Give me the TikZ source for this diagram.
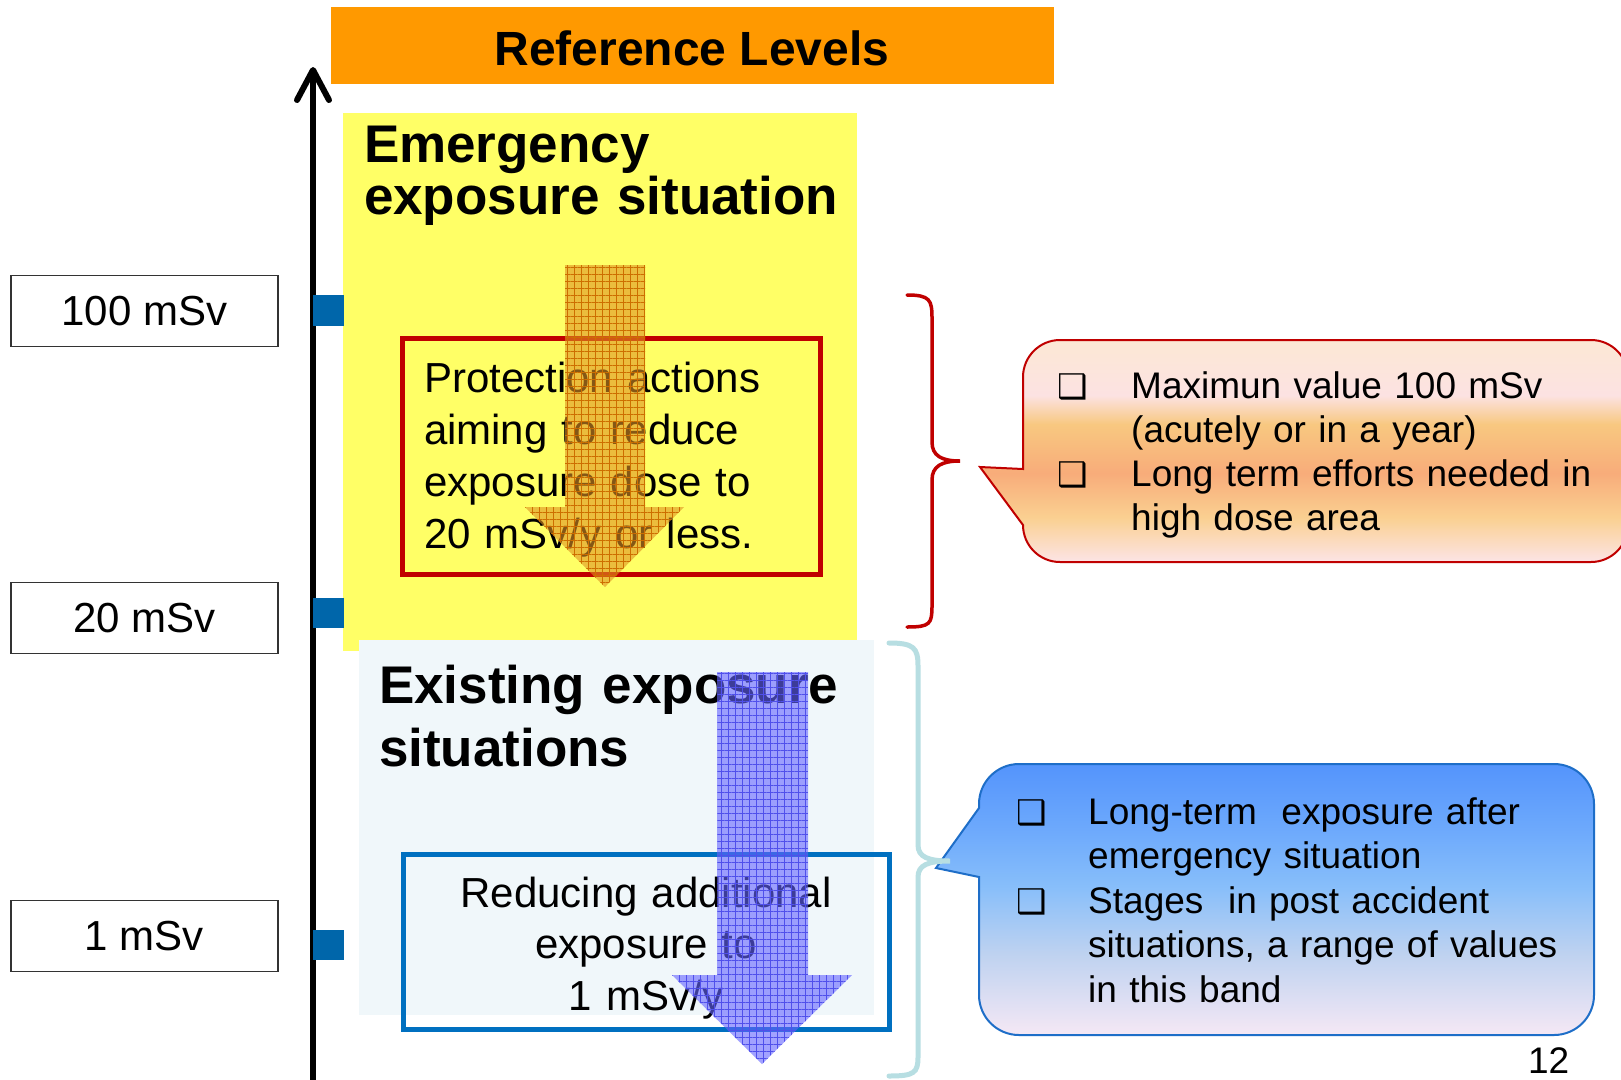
\documentclass[tikz,border=0pt]{standalone}
\usepackage{fontspec}
\setmainfont{Liberation Sans}
\newfontfamily\symfont{DejaVu Sans}
\usetikzlibrary{patterns.meta}
\definecolor{barorange}{RGB}{255,153,0}
\definecolor{emyellow}{RGB}{255,255,102}
\definecolor{exblue}{RGB}{240,247,250}
\definecolor{boxred}{RGB}{192,0,0}
\definecolor{boxblue}{RGB}{0,112,192}
\definecolor{tickblue}{RGB}{0,102,170}
\definecolor{arrO}{RGB}{222,145,35}
\definecolor{arrOline}{RGB}{205,110,0}
\definecolor{arrB}{RGB}{100,100,255}
\definecolor{arrBline}{RGB}{80,80,235}
\definecolor{bracecyan}{RGB}{183,222,226}
\definecolor{calblueedge}{RGB}{30,110,200}
\definecolor{oc1}{RGB}{252,232,212}
\definecolor{oc2}{RGB}{252,226,226}
\definecolor{oc3}{RGB}{248,200,128}
\definecolor{oc4}{RGB}{248,172,122}
\definecolor{oc5}{RGB}{250,208,145}
\definecolor{oc6}{RGB}{252,228,230}
\definecolor{bc1}{RGB}{84,148,252}
\definecolor{bc2}{RGB}{110,170,252}
\definecolor{bc3}{RGB}{135,190,250}
\definecolor{bc4}{RGB}{190,210,240}
\definecolor{bc5}{RGB}{245,232,245}
\pgfdeclareverticalshading{orangeshade}{100bp}{color(0bp)=(oc6); color(25bp)=(oc6); color(35bp)=(oc5); color(45bp)=(oc4); color(56bp)=(oc3); color(62.5bp)=(oc2); color(75bp)=(oc1); color(100bp)=(oc1)}
\pgfdeclareverticalshading{blueshade}{100bp}{color(0bp)=(bc5); color(25bp)=(bc5); color(40bp)=(bc4); color(52.5bp)=(bc3); color(62.5bp)=(bc2); color(75bp)=(bc1); color(100bp)=(bc1)}
\newcommand\myfs[2]{\fontsize{#1}{#2}\selectfont}
\tikzset{
  txt/.style={inner sep=0pt, outer sep=0pt},
  lbl/.style={draw=black!80, line width=1.5pt, minimum width=267pt, minimum height=71pt, inner sep=0pt, font=\myfs{42}{50}},
  bul/.style={inner sep=0pt, anchor=base west, font=\symfont\myfs{34}{40}},
  item/.style={inner sep=0pt, anchor=base west, text width=560pt, align=left, font=\myfs{37}{44}},
  tick/.style={fill=tickblue},
  gridO/.style={pattern={Hatch[distance=7pt,angle=0,line width=0.5pt]}, pattern color=arrOline, fill opacity=0.3},
  gridB/.style={pattern={Hatch[distance=7pt,angle=0,line width=0.5pt]}, pattern color=arrBline, fill opacity=0.25},
}
\begin{document}
\begin{tikzpicture}[x=1pt,y=1pt]
\useasboundingbox (0,0) rectangle (1621,-1079);
\fill[white] (0,0) rectangle (1621,-1079);

% title bar
\node[fill=barorange, minimum width=723pt, minimum height=77pt, inner sep=0pt] (bar) at (692.5,-45.5) {};
\node[txt, anchor=base, font=\myfs{48}{56}\bfseries] (bartext) at (692,-65) {Reference Levels};

% region boxes
\fill[emyellow] (343,-113) rectangle (857,-651);
\fill[exblue] (359,-640) rectangle (874,-1015);

% axis
\draw[line width=6pt] (313,-1090) -- (313,-74);
\draw[line width=6pt, line cap=round, line join=round] (297,-100) -- (313,-70) -- (329,-100);

% ticks
\fill[tick] (313,-295) rectangle (344,-326);
\fill[tick] (313,-598) rectangle (344,-628);
\fill[tick] (313,-930) rectangle (344,-960);

% level labels
\node[lbl] (l100) at (144.5,-311) {100 mSv};
\node[lbl] (l20) at (144.5,-618) {20 mSv};
\node[lbl] (l1) at (144.5,-936) {1 mSv};

% emergency
\node[txt, anchor=base west, text width=480pt, align=left, font=\myfs{53}{52}\bfseries] (emtitle) at (364,-162) {Emergency\\exposure situation};
\draw[boxred, line width=5pt] (402,-338) rectangle (820,-574);
\node[txt, anchor=base west, text width=400pt, align=left, font=\myfs{42}{52}] (emtext) at (424,-392) {Protection actions\\aiming to reduce\\exposure dose to\\20 mSv/y or less.};

% existing
\node[txt, anchor=base west, text width=480pt, align=left, font=\myfs{53}{63}\bfseries] (extitle) at (379,-703) {Existing exposure\\situations};
\draw[boxblue, line width=5pt] (403,-854) rectangle (889,-1029);
\node[txt, anchor=base, text width=470pt, align=center, font=\myfs{42}{51.5}] (extext) at (646,-907) {Reducing additional\\exposure to\\1 mSv/y};

% translucent arrows
\path[fill=arrO, fill opacity=0.6] (565,-265) -- (645,-265) -- (645,-507) -- (684,-507) -- (605,-587) -- (525,-507) -- (565,-507) -- cycle;
\path[gridO] (565,-265) -- (645,-265) -- (645,-507) -- (684,-507) -- (605,-587) -- (525,-507) -- (565,-507) -- cycle;
\path[fill=arrB, fill opacity=0.6] (717,-672) -- (808,-672) -- (808,-975) -- (852,-975) -- (762,-1064) -- (672,-975) -- (717,-975) -- cycle;
\path[gridB] (717,-672) -- (808,-672) -- (808,-975) -- (852,-975) -- (762,-1064) -- (672,-975) -- (717,-975) -- cycle;

% red brace
\draw[boxred, line width=3.5pt, line cap=round] (907,-295) .. controls (930,-295) and (932,-300) .. (932,-318) -- (932,-442) .. controls (932,-456) and (942,-461) .. (960,-461) .. controls (942,-461) and (932,-466) .. (932,-480) -- (932,-606) .. controls (932,-624) and (930,-627) .. (907,-627);

% orange callout
\path[shading=orangeshade, draw=boxred, line width=2pt] (1023,-469) -- (980,-467) -- (1023,-525) arc[start angle=180,end angle=270,radius=37] -- (1591,-562) arc[start angle=270,end angle=360,radius=37] -- (1628,-377) arc[start angle=0,end angle=90,radius=37] -- (1060,-340) arc[start angle=90,end angle=180,radius=37] -- cycle;
\node[bul] (ob1) at (1057,-398) {❑};
\node[bul] (ob2) at (1057,-486) {❑};
\node[item] (oi1) at (1131,-398) {Maximun value 100 mSv\\(acutely or in a year)};
\node[item] (oi2) at (1131,-486) {Long term efforts needed in\\high dose area};

% blue callout
\path[shading=blueshade, draw=calblueedge, line width=2pt] (979,-877) -- (936,-868) -- (979,-808) -- (979,-804) arc[start angle=180,end angle=90,radius=40] -- (1554,-764) arc[start angle=90,end angle=0,radius=40] -- (1594,-995) arc[start angle=0,end angle=-90,radius=40] -- (1019,-1035) arc[start angle=270,end angle=180,radius=40] -- cycle;
\node[bul] (bb1) at (1016,-824) {❑};
\node[bul] (bb2) at (1016,-913) {❑};
\node[item, font=\myfs{37}{44.5}] (bi1) at (1088,-824) {Long-term~ exposure after\\emergency situation};
\node[item, font=\myfs{37}{44.5}] (bi2) at (1088,-913) {Stages~ in post accident\\situations, a range of values\\in this band};

% cyan brace
\draw[bracecyan, line width=5pt, line cap=round] (889,-643) .. controls (914,-643) and (918,-648) .. (918,-666) -- (918,-845) .. controls (918,-857) and (928,-861) .. (950,-861) .. controls (928,-861) and (918,-865) .. (918,-877) -- (918,-1057) .. controls (918,-1073) and (914,-1076) .. (889,-1076);

% page number
\node[txt, anchor=base west, font=\myfs{37}{44}] (pnum) at (1528,-1073) {12};
\end{tikzpicture}
\end{document}
